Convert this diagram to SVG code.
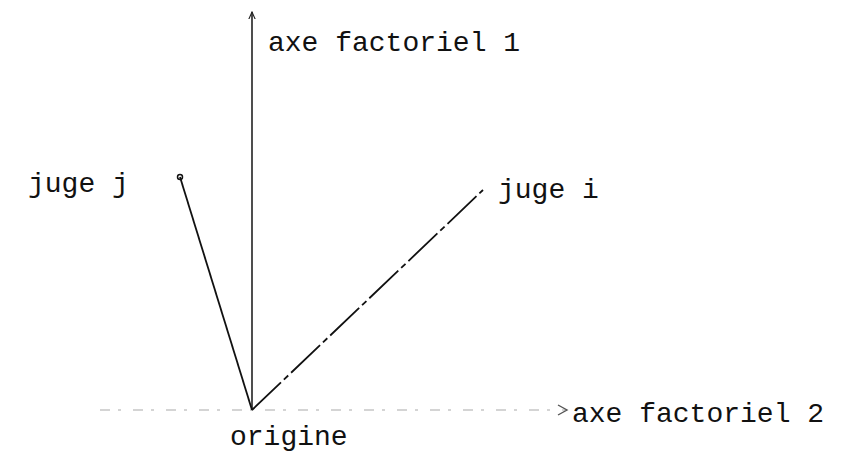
<svg xmlns="http://www.w3.org/2000/svg" width="852" height="455" viewBox="0 0 852 455">
<style>
text{font-family:"Liberation Mono","DejaVu Sans Mono",monospace;font-size:28px;fill:#111}
.ax{stroke:#222;stroke-width:1.6;fill:none}
.faint{stroke:#aaa;stroke-width:1.2;stroke-dasharray:10 8 3 12;fill:none}
.seg{stroke:#111;stroke-width:1.8;fill:none}
</style>
<defs>
<marker id="arr" viewBox="0 0 10 10" refX="9" refY="5" markerWidth="8" markerHeight="8" orient="auto" markerUnits="userSpaceOnUse">
<path d="M0,1 L9,5 L0,9" fill="none" stroke="#222" stroke-width="1.4"/>
</marker>
</defs>
<g id="connectors">
<line class="ax" x1="252" y1="410" x2="252" y2="12" marker-end="url(#arr)"/>
<line class="faint" x1="100" y1="410" x2="567" y2="410"/>
<path d="M558,405 L567,410 L558,415" fill="none" stroke="#555" stroke-width="1.4"/>
<line class="seg" x1="252" y1="410" x2="180" y2="177"/>
<line class="seg" x1="252" y1="410" x2="483" y2="190" stroke-dasharray="40 4 6 4"/>
</g>
<g id="juge-j"><circle cx="180" cy="177" r="2.5" fill="none" stroke="#111" stroke-width="1.5"/><text x="28" y="192">juge j</text></g>
<g id="juge-i"><text x="498" y="198">juge i</text></g>
<g id="axe1"><text x="268" y="51">axe factoriel 1</text></g>
<g id="axe2"><text x="572" y="422">axe factoriel 2</text></g>
<g id="origine"><text x="230" y="445">origine</text></g>
</svg>
